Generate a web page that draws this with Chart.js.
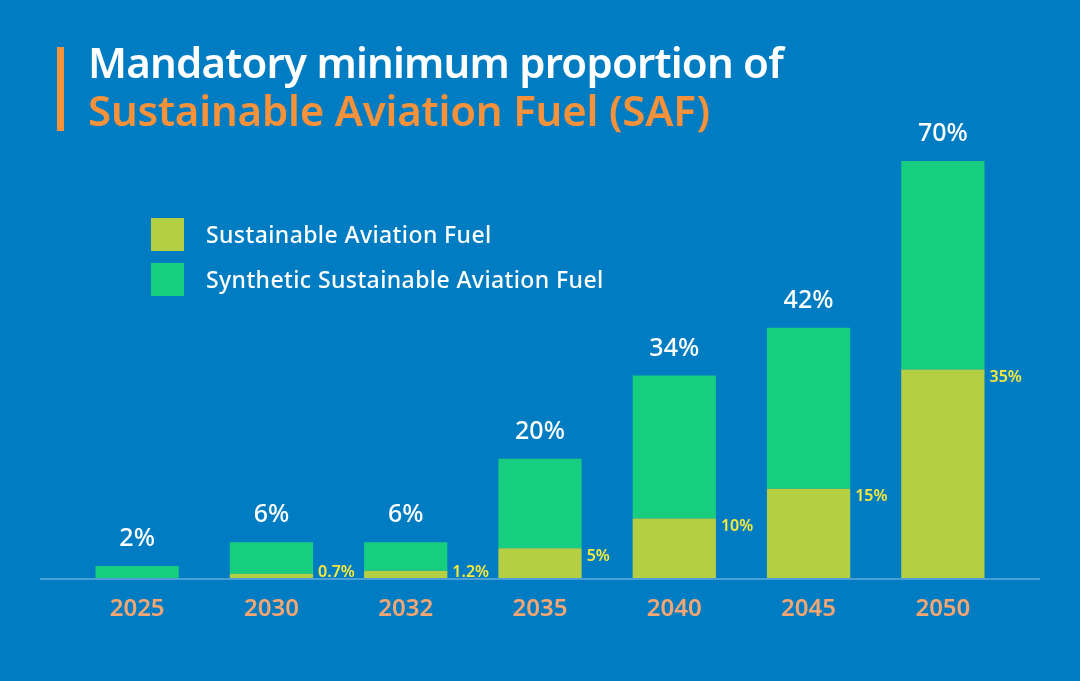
<!DOCTYPE html>
<html>
<head>
<meta charset="utf-8">
<script src="https://cdn.jsdelivr.net/npm/chart.js@4.4.1/dist/chart.umd.min.js"></script>
<style>
  html, body { margin:0; padding:0; background:#007DC2; }
  #wrap { position:relative; width:1080px; height:681px; overflow:hidden; background:#007DC2; font-family:"Noto Sans", sans-serif; }
  #c { position:absolute; left:0; top:0; }
  .bar { position:absolute; left:57px; top:47px; width:7px; height:84px; background:#F7923A; }
  .t1, .t2 { position:absolute; left:88px; font-weight:600; font-size:42px; line-height:48px; white-space:nowrap; }
  .t1 { top:38px; color:#ffffff; letter-spacing:-0.8px; }
  .t2 { top:86px; color:#F7923A; letter-spacing:-0.2px; }
  .leg { position:absolute; left:151px; font-size:23px; font-weight:500; color:#fff; white-space:nowrap; letter-spacing:0.4px; }
  .leg span.sw { position:absolute; left:0; top:0; width:33px; height:33px; }
  .leg span.tx { position:absolute; left:55px; top:1px; line-height:30px; }
</style>
</head>
<body>
<div id="wrap">
  <canvas id="c" width="1080" height="681"></canvas>
  <div class="bar"></div>
  <div class="t1">Mandatory minimum proportion of</div>
  <div class="t2">Sustainable Aviation Fuel (SAF)</div>
  <div id="legend"></div>
</div>
<script>
const years = ["2025", "2030", "2032", "2035", "2040", "2045", "2050"];
const totalShare = [2, 6, 6, 20, 34, 42, 70];          // total SAF mandate (%)
const lowerShare = [0, 0.7, 1.2, 5, 10, 15, 35];       // lower (olive) segment (%)
const totalLabels = ["2%", "6%", "6%", "20%", "34%", "42%", "70%"];
const lowerLabels = ["", "0.7%", "1.2%", "5%", "10%", "15%", "35%"];
const seriesNames = ["Sustainable Aviation Fuel", "Synthetic Sustainable Aviation Fuel"];

const upperShare = totalShare.map((t, i) => +(t - lowerShare[i]).toFixed(2));

const OLIVE = "#B5CF43", GREEN = "#17CD7F";

// HTML legend
const legEl = document.getElementById('legend');
[[seriesNames[0], OLIVE, 218], [seriesNames[1], GREEN, 263]].forEach(([name, col, top]) => {
  const d = document.createElement('div');
  d.className = 'leg'; d.style.top = top + 'px';
  d.innerHTML = '<span class="sw" style="background:' + col + '"></span><span class="tx">' + name + '</span>';
  legEl.appendChild(d);
});

const labelPlugin = {
  id: 'labels',
  afterDatasetsDraw(chart) {
    const ctx = chart.ctx;
    const y = chart.scales.y;
    const metaLow = chart.getDatasetMeta(0);
    const metaUp = chart.getDatasetMeta(1);
    const base = y.getPixelForValue(0);
    ctx.save();
    // axis line
    ctx.strokeStyle = "#4A9FD6"; ctx.lineWidth = 2;
    ctx.beginPath(); ctx.moveTo(40, base + 1); ctx.lineTo(1040, base + 1); ctx.stroke();
    years.forEach((yr, i) => {
      const up = metaUp.data[i];
      const low = metaLow.data[i];
      ctx.fillStyle = "#ffffff";
      ctx.font = "500 25px 'Noto Sans'";
      ctx.textAlign = "center"; ctx.textBaseline = "middle";
      ctx.fillText(totalLabels[i], up.x, up.y - 27);
      if (lowerLabels[i]) {
        ctx.fillStyle = "#F9E93B";
        ctx.font = "600 16px 'Noto Sans'";
        ctx.textAlign = "left";
        const right = low.x + low.width / 2;
        const ly = Math.min(low.y + 8, base - 6);
        ctx.fillText(lowerLabels[i], right + 5, ly);
      }
    });
    ctx.restore();
  }
};

new Chart(document.getElementById('c'), {
  type: 'bar',
  data: {
    labels: years,
    datasets: [
      { label: seriesNames[0], data: lowerShare, backgroundColor: OLIVE, borderWidth: 0 },
      { label: seriesNames[1], data: upperShare, backgroundColor: GREEN, borderWidth: 0 }
    ]
  },
  options: {
    responsive: false,
    animation: false,
    events: [],
    layout: { padding: { left: 70, right: 70, top: 161, bottom: 43 } },
    plugins: { legend: { display: false }, tooltip: { enabled: false } },
    datasets: { bar: { barPercentage: 0.62, categoryPercentage: 1 } },
    scales: {
      x: {
        stacked: true,
        grid: { display: false, drawTicks: false },
        border: { display: false },
        ticks: { color: "#F5A673", font: { family: "Noto Sans", size: 24, weight: 600 }, padding: 17 },
        afterFit(s) { s.height = 60; }
      },
      y: { stacked: true, display: false, min: 0, max: 70 }
    }
  },
  plugins: [labelPlugin]
});
</script>
</body>
</html>
